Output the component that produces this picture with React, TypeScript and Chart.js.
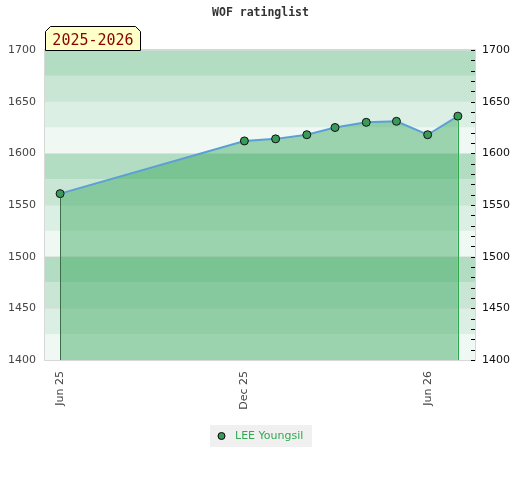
import React, { useEffect, useRef } from "react";
import { Chart, registerables } from "chart.js";

Chart.register(...registerables);

const pointDates = [
  "2025-06-01", "2025-12-01", "2026-01-01", "2026-02-01", "2026-03-01",
  "2026-04-01", "2026-05-01", "2026-06-01", "2026-07-01",
];
const ratings = [1561, 1612, 1614, 1618, 1625, 1630, 1631, 1618, 1636];
const tickDates = ["2025-06-01", "2025-12-01", "2026-06-01"];
const tickLabels = ["Jun 25", "Dec 25", "Jun 26"];
const seriesName = "LEE Youngsil";
const seasonLabel = "2025-2026";
const titleText = "WOF ratinglist";
const yMin = 1400;
const yMax = 1700;

const toDay = (s: string) =>
  Date.UTC(+s.slice(0, 4), +s.slice(5, 7) - 1, +s.slice(8, 10)) / 86400000;

const bandColors = ["#eff8f2", "#dcefe4", "#c9e6d5", "#b3ddc3"];

const decor = {
  id: "decor",
  beforeDraw(chart: any) {
    const { ctx, chartArea: a, scales } = chart;
    const y = scales.y;
    ctx.save();
    for (let v = yMin, i = 0; v < yMax; v += 25, i++) {
      const top = y.getPixelForValue(v + 25);
      const bot = y.getPixelForValue(v);
      ctx.fillStyle = bandColors[i % 4];
      ctx.fillRect(a.left, top, a.right - a.left, bot - top);
    }
    ctx.restore();
  },
  afterDatasetsDraw(chart: any) {
    const { ctx, chartArea: a } = chart;
    const pts = chart.getDatasetMeta(0).data;
    const first = pts[0];
    const last = pts[pts.length - 1];
    ctx.save();
    ctx.lineWidth = 1;
    ctx.strokeStyle = "#3d6e4c";
    ctx.beginPath();
    ctx.moveTo(Math.round(first.x) + 0.5, first.y + 4);
    ctx.lineTo(Math.round(first.x) + 0.5, a.bottom);
    ctx.stroke();
    ctx.strokeStyle = "#2fa84f";
    ctx.beginPath();
    ctx.moveTo(Math.round(last.x) + 0.5, last.y + 4);
    ctx.lineTo(Math.round(last.x) + 0.5, a.bottom);
    ctx.stroke();
    ctx.restore();
  },
  afterDraw(chart: any) {
    const { ctx, chartArea: a, scales } = chart;
    const y2 = scales.y2;
    ctx.save();
    // plot border
    ctx.strokeStyle = "#d8d8d8";
    ctx.lineWidth = 1;
    ctx.strokeRect(a.left - 0.5, a.top - 0.5, a.right - a.left + 1, a.bottom - a.top + 1);
    // right minor ticks
    ctx.strokeStyle = "#000";
    for (let v = yMin; v <= yMax; v += 10) {
      const py = Math.round(y2.getPixelForValue(v)) + 0.5;
      ctx.beginPath();
      ctx.moveTo(a.right - 4, py);
      ctx.lineTo(a.right, py);
      ctx.stroke();
    }
    // season box
    const x0 = a.left + 0.5, x1 = a.left + 95.5, y0 = a.top - 23.5, y1 = a.top + 0.5, c = 5;
    ctx.beginPath();
    ctx.moveTo(x0, y1);
    ctx.lineTo(x0, y0 + c);
    ctx.lineTo(x0 + c, y0);
    ctx.lineTo(x1 - c, y0);
    ctx.lineTo(x1, y0 + c);
    ctx.lineTo(x1, y1);
    ctx.closePath();
    ctx.fillStyle = "#ffffc8";
    ctx.fill();
    ctx.strokeStyle = "#000";
    ctx.stroke();
    ctx.fillStyle = "#8b0000";
    ctx.font = "15px 'DejaVu Sans Mono'";
    ctx.textAlign = "center";
    ctx.textBaseline = "alphabetic";
    ctx.fillText(seasonLabel, (x0 + x1) / 2, a.top - 5);
    // title
    ctx.fillStyle = "#333";
    ctx.font = "bold 11.5px 'DejaVu Sans Mono'";
    ctx.textBaseline = "middle";
    ctx.fillText(titleText, 260.5, 13);
    // legend
    ctx.fillStyle = "#f0f0f0";
    ctx.fillRect(210, 425, 102, 22);
    ctx.beginPath();
    ctx.arc(221.5, 436, 3.5, 0, Math.PI * 2);
    ctx.fillStyle = "#3a9a5a";
    ctx.fill();
    ctx.strokeStyle = "#000";
    ctx.stroke();
    ctx.fillStyle = "#35a853";
    ctx.font = "11px 'DejaVu Sans'";
    ctx.textAlign = "left";
    ctx.fillText(seriesName, 235, 436.5);
    ctx.restore();
  },
};

export default function App() {
  const ref = useRef<HTMLCanvasElement>(null);
  useEffect(() => {
    if (!ref.current) return;
    const xs = pointDates.map(toDay);
    const chart = new Chart(ref.current, {
      type: "line",
      data: {
        datasets: [
          {
            label: seriesName,
            data: xs.map((x, i) => ({ x, y: ratings[i] })),
            borderColor: "#5b9fd6",
            borderWidth: 2,
            backgroundColor: "rgba(54,166,90,0.45)",
            fill: "start",
            tension: 0,
            pointRadius: 4,
            pointBackgroundColor: "#3a9a5a",
            pointBorderColor: "#111",
            pointBorderWidth: 1,
          },
        ],
      },
      options: {
        animation: false,
        responsive: false,
        devicePixelRatio: 1,
        layout: { padding: { top: 50, left: 0, right: 0, bottom: 0 } },
        plugins: {
          legend: { display: false },
          title: { display: false },
          tooltip: { enabled: false },
        },
        scales: {
          x: {
            type: "linear",
            min: xs[0] - 15,
            max: xs[xs.length - 1] + 17,
            afterBuildTicks: (s: any) => {
              s.ticks = tickDates.map((d) => ({ value: toDay(d) }));
            },
            afterFit: (s: any) => {
              s.height = 120;
            },
            ticks: {
              autoSkip: false,
              minRotation: 90,
              maxRotation: 90,
              padding: 11,
              color: "#444",
              font: { family: "'DejaVu Sans'", size: 11 },
              callback: (v: any) => {
                const i = tickDates.findIndex((d) => toDay(d) === v);
                return i >= 0 ? tickLabels[i] : "";
              },
            },
            grid: { display: false, drawTicks: false },
            border: { display: false },
          },
          y: {
            position: "left",
            min: yMin,
            max: yMax,
            afterFit: (s: any) => {
              s.width = 45;
            },
            ticks: {
              stepSize: 50,
              padding: 9,
              color: "#444",
              font: { family: "'DejaVu Sans'", size: 11 },
              callback: (v: any) => String(v),
            },
            grid: { color: "rgba(220,220,220,0.6)", drawTicks: false },
            border: { display: false },
          },
          y2: {
            position: "right",
            min: yMin,
            max: yMax,
            afterFit: (s: any) => {
              s.width = 45;
            },
            ticks: {
              stepSize: 50,
              padding: 7,
              color: "#111",
              font: { family: "'DejaVu Sans'", size: 11 },
              callback: (v: any) => String(v),
            },
            grid: { drawOnChartArea: false, drawTicks: false },
            border: { display: false },
          },
        },
      },
      plugins: [decor],
    } as any);
    return () => chart.destroy();
  }, []);
  return (
    <div style={{ position: "fixed", left: 0, top: 0, width: 520, height: 480, background: "#fff" }}>
      <canvas ref={ref} width={520} height={480} style={{ width: 520, height: 480 }} />
    </div>
  );
}
